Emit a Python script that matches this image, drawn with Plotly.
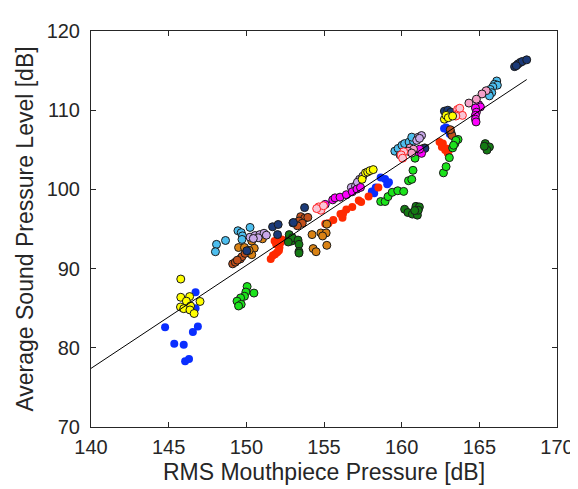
import plotly.graph_objects as go

# ---- data (dB) ----
blue_x = [144.77, 145.36, 145.97, 146.06, 146.31, 146.56, 146.88, 146.73, 146.73,
          158.08, 158.23, 158.33, 158.65, 158.93, 159.07, 159.18, 162.73, 162.86, 163.0, 163.1]
blue_y = [82.6, 80.5, 80.4, 78.3, 78.6, 82.0, 82.7, 85.0, 87.0,
          99.75, 99.5, 100.25, 101.5, 101.3, 100.65, 100.9, 107.7, 107.8, 107.4, 107.0]

red_x = [151.57, 151.71, 151.99, 152.13, 151.92, 151.82, 152.2, 152.28, 151.85, 152.1,
         155.08, 155.29, 155.6, 156.06, 156.19, 156.23, 156.44, 156.82, 157.24, 157.39,
         157.87, 158.5, 162.44, 162.65, 162.59, 162.86, 162.97, 163.17, 162.8, 162.97]
red_y = [91.22, 91.64, 92.05, 92.66, 93.06, 93.48, 93.27, 93.68, 91.8, 92.3,
         95.65, 95.73, 96.14, 96.88, 96.43, 96.96, 97.45, 97.79, 98.6, 98.4,
         99.09, 100.25, 105.98, 105.78, 105.36, 105.17, 104.75, 105.17, 104.96, 104.55]

yellow_x = [145.78, 145.78, 146.35, 146.14, 146.41, 145.76, 145.97, 146.37, 146.64, 147.02,
            157.45, 157.67, 157.81, 157.96, 158.17, 162.75, 162.86, 163.0, 163.28]
yellow_y = [88.68, 86.38, 86.47, 85.89, 85.28, 85.15, 84.94, 84.78, 84.33, 85.85,
            101.27, 102.09, 102.2, 102.37, 102.5, 108.86, 109.35, 109.05, 109.26]

skyblue_x = [149.46, 149.67, 149.75, 149.72, 150.24, 148.66, 148.08, 148.01,
             159.56, 159.77, 160.02, 160.19, 160.48, 160.76, 159.9, 160.65,
             166.12, 165.97, 166.16, 165.87, 165.7, 165.8, 165.59, 165.65]
skyblue_y = [94.78, 94.54, 94.13, 93.68, 95.2, 93.55, 93.06, 92.13,
             104.83, 105.17, 105.57, 105.78, 105.98, 106.06, 104.35, 106.6,
             113.69, 113.28, 113.16, 112.95, 112.62, 112.21, 112.13, 111.81]

navy_x = [151.69, 152.05, 153.0, 152.01, 150.03, 153.75, 153.03,
          161.49, 162.75, 162.97, 163.17,
          167.27, 167.48, 167.63, 167.76, 168.05, 167.38]
navy_y = [95.28, 95.57, 95.77, 94.29, 92.25, 97.7, 95.82,
          105.17, 109.88, 110.0, 109.75,
          115.5, 115.82, 116.03, 116.15, 116.36, 115.62]

lavender_x = [150.24, 150.56, 150.87, 151.14, 151.29, 150.76, 150.45,
              156.76, 157.03, 157.29, 157.5, 157.15,
              161.07, 161.28, 160.97, 161.15]
lavender_y = [93.97, 94.17, 94.29, 94.46, 94.22, 93.89, 93.8,
              100.25, 100.44, 101.27, 101.67, 100.9,
              106.59, 106.8, 106.19, 106.45]

ochre_x = [150.35, 151.04, 149.5, 149.88, 150.51, 150.35, 150.18,
           155.18, 154.23, 154.8, 155.14, 155.18, 154.3, 154.49, 154.91,
           161.49, 161.39]
ochre_y = [93.48, 93.76, 92.66, 92.66, 92.57, 91.76, 92.3,
           95.61, 94.29, 94.5, 94.5, 92.94, 92.53, 92.13, 94.12,
           105.24, 105.17]

darkorange_x = [149.12, 149.29, 149.61, 149.72, 149.92, 149.42,
                153.5, 153.75, 153.96, 153.39, 153.6, 153.29,
                163.17, 163.24, 163.13]
darkorange_y = [90.6, 90.81, 91.22, 91.51, 91.92, 91.06,
                96.56, 96.35, 96.47, 96.01, 95.73, 95.4,
                107.21, 106.8, 107.54]

green_x = [150.05, 149.97, 150.49, 149.88, 149.63, 149.4, 149.67, 149.5,
           158.65, 158.93, 159.12, 159.39, 159.75, 160.13, 160.44, 160.65, 160.73,
           162.69, 162.86, 160.86, 163.07, 163.63, 163.43, 163.28, 163.49, 163.34]
green_y = [87.74, 87.04, 86.91, 86.51, 86.3, 85.89, 85.49, 85.28,
           98.47, 98.47, 99.09, 99.63, 99.83, 99.75, 101.1, 101.27, 102.41,
           102.09, 102.87, 103.94, 104.01, 106.31, 105.78, 105.24, 106.19, 105.57]

darkgreen_x = [152.76, 152.91, 152.76, 152.97, 152.7, 153.33, 153.39, 153.39, 153.39,
               160.19, 160.4, 160.69, 161.01, 160.92, 161.14, 161.07, 160.84,
               165.38, 165.65, 165.49, 165.32]
darkgreen_y = [93.89, 93.48, 94.29, 93.89, 93.36, 93.6, 93.06, 92.16, 91.96,
               97.49, 97.08, 96.88, 96.75, 97.86, 97.79, 97.37, 97.33,
               105.78, 105.36, 104.96, 105.45]

magenta_x = [155.08, 155.56, 155.71, 156.03, 156.44, 156.82, 157.12, 157.35,
             161.07, 161.28, 161.16,
             164.96, 165.07, 164.75, 164.81, 164.75, 164.75, 164.79]
magenta_y = [98.11, 98.68, 98.93, 99.02, 99.33, 99.7, 100.04, 100.25,
             104.75, 104.55, 105.08,
             110.7, 110.41, 110.28, 109.75, 109.35, 108.86, 108.52]

pink_x = [160.54, 160.76, 160.4, 160.65, 165.44, 165.17, 164.81, 164.33]
pink_y = [105.24, 105.08, 104.83, 104.59, 112.46, 112.05, 111.39, 110.9]

pinkred_x = [154.66, 154.8, 154.53, 154.97, 160.13, 159.97, 160.06,
             163.6, 163.7, 163.91, 163.49, 163.74]
pinkred_y = [97.79, 97.37, 97.58, 97.94, 104.75, 104.35, 103.94,
             110.09, 109.67, 109.35, 109.26, 110.25]

fit_x = [140.0, 168.05]
fit_y = [77.4, 113.87]

# ---- figure ----
fig = go.Figure()

def add(xs, ys, fill, edge, ew=1.0):
    fig.add_trace(go.Scatter(x=xs, y=ys, mode="markers",
                             marker=dict(size=8, color=fill,
                                         line=dict(color=edge, width=ew)),
                             showlegend=False, hoverinfo="skip"))

add(blue_x, blue_y, "#0A2EFF", "#0A2EFF", 0)
add(red_x, red_y, "#FF2A00", "#FF2A00", 0)
add(darkorange_x, darkorange_y, "#C2501C", "#1a1a1a")
add(ochre_x, ochre_y, "#D98214", "#1a1a1a")
add(skyblue_x, skyblue_y, "#4DBEEE", "#1a1a1a")
add(navy_x, navy_y, "#1B3A78", "#1a1a1a")
add(lavender_x, lavender_y, "#C9A9E9", "#1a1a1a")
add(green_x, green_y, "#1BE31B", "#1a1a1a")
add(darkgreen_x, darkgreen_y, "#147A14", "#1a1a1a")
add(magenta_x, magenta_y, "#FF00FF", "#1a1a1a")
add(pink_x, pink_y, "#F5A0C8", "#1a1a1a")
add(pinkred_x, pinkred_y, "#F9C6D6", "#FF2020")
add(yellow_x, yellow_y, "#FFFF00", "#1a1a1a")

fig.add_trace(go.Scatter(x=fit_x, y=fit_y, mode="lines",
                         line=dict(color="black", width=1),
                         showlegend=False, hoverinfo="skip"))

FONT = "Liberation Sans, Arial, Helvetica"
axis_common = dict(showgrid=False, zeroline=False, showline=True, linecolor="#262626",
                   linewidth=1, mirror="ticks", ticks="inside", ticklen=5,
                   tickcolor="#262626", tickfont=dict(family=FONT, size=20, color="#262626"))

fig.update_layout(
    width=578, height=489,
    margin=dict(l=83, r=20, t=13, b=70),
    plot_bgcolor="white", paper_bgcolor="white",
    xaxis=dict(range=[140, 170], tickvals=[140, 145, 150, 155, 160, 165, 170],
               ticklabelstandoff=2,
               title=dict(text="RMS Mouthpiece Pressure [dB]", standoff=6,
                          font=dict(family=FONT, size=23, color="#262626")),
               **axis_common),
    yaxis=dict(range=[70, 120], tickvals=[70, 80, 90, 100, 110, 120],
               ticklabelstandoff=6,
               title=dict(text="Average Sound Pressure Level [dB]", standoff=6,
                          font=dict(family=FONT, size=23, color="#262626")),
               **axis_common),
)

fig.write_html("out.html")
